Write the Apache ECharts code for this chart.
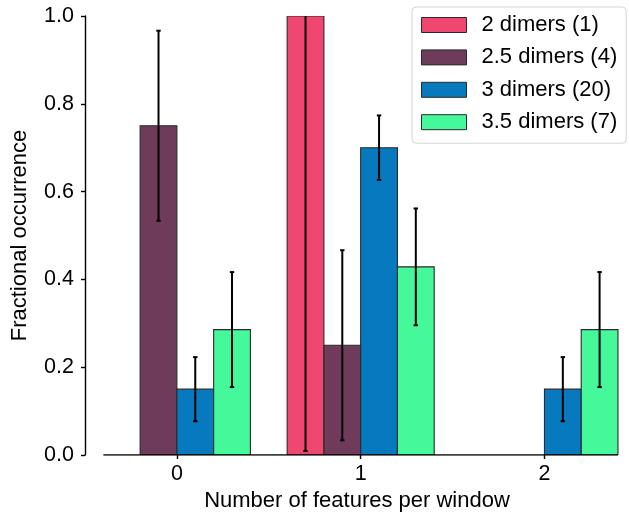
<!DOCTYPE html>
<html>
<head>
<meta charset="utf-8">
<script src="https://cdn.jsdelivr.net/npm/echarts@6/dist/echarts.min.js"></script>
<style>
html,body{margin:0;padding:0;background:#fff;}
#chart{width:629px;height:512px;}
</style>
</head>
<body>
<div id="chart"></div>
<script>
// ---- data ----
const categories = [0, 1, 2];
const seriesNames = ['2 dimers (1)', '2.5 dimers (4)', '3 dimers (20)', '3.5 dimers (7)'];
const dimers2  = [0, 1.0, 0];
const dimers25 = [0.75, 0.25, 0];
const dimers3  = [0.15, 0.70, 0.15];
const dimers35 = [0.2857, 0.4286, 0.2857];
const err2  = [0, 0.991, 0];
const err25 = [0.2165, 0.2165, 0];
const err3  = [0.073, 0.0735, 0.073];
const err35 = [0.131, 0.133, 0.131];
const yTicks = [0, 0.2, 0.4, 0.6, 0.8, 1.0];

// ---- styling ----
const colors = ['#EF476F', '#6E3C5A', '#0779BF', '#45F99A'];
const barW = 0.2;
const FONT = 'Liberation Sans, Arial, sans-serif';
const values = [dimers2, dimers25, dimers3, dimers35];
const errs = [err2, err25, err3, err35];

function makeRender(si) {
  const off = (si - 1.5) * barW;
  return function (params, api) {
    const x = api.value(0) + off;
    const v = api.value(1);
    const e = api.value(2);
    const children = [];
    if (v > 0) {
      const p0 = api.coord([x - barW / 2, v]);
      const p1 = api.coord([x + barW / 2, 0]);
      children.push({
        type: 'rect',
        shape: { x: p0[0], y: p0[1], width: p1[0] - p0[0], height: p1[1] - p0[1] },
        style: { fill: colors[si], stroke: '#2a2a2a', lineWidth: 1.1 }
      });
    }
    if (e > 0) {
      const t = api.coord([x, v + e]);
      const b = api.coord([x, v - e]);
      const cap = 2.2;
      const ls = { stroke: '#000', lineWidth: 2 };
      children.push({ type: 'line', shape: { x1: t[0], y1: t[1], x2: b[0], y2: b[1] }, style: ls });
      children.push({ type: 'line', shape: { x1: t[0] - cap, y1: t[1], x2: t[0] + cap, y2: t[1] }, style: ls });
      children.push({ type: 'line', shape: { x1: b[0] - cap, y1: b[1], x2: b[0] + cap, y2: b[1] }, style: ls });
    }
    return { type: 'group', children: children };
  };
}

const series = seriesNames.map((name, si) => ({
  name: name,
  type: 'custom',
  clip: true,
  renderItem: makeRender(si),
  itemStyle: { color: colors[si], borderColor: '#2a2a2a', borderWidth: 1 },
  encode: { x: 0, y: 1 },
  data: categories.map((c, i) => [c, values[si][i], errs[si][i]])
}));
// x-axis spine spanning the bars' extent
series.push({
  type: 'line',
  silent: true,
  symbol: 'none',
  lineStyle: { color: '#000', width: 1.4 },
  data: [[categories[0] - 2 * barW, 0], [categories[categories.length - 1] + 2 * barW, 0]],
  z: 5
});

const chart = echarts.init(document.getElementById('chart'), null, { renderer: 'canvas' });
chart.setOption({
  animation: false,
  backgroundColor: '#fff',
  textStyle: { fontFamily: FONT },
  grid: { left: 85, right: 0, top: 16, bottom: 57, containLabel: false, outerBoundsMode: 'none' },
  legend: {
    orient: 'vertical',
    left: 412,
    top: 7,
    padding: [7, 9, 10, 9],
    itemWidth: 45,
    itemHeight: 15,
    itemGap: 10.4,
    backgroundColor: 'rgba(255,255,255,0.85)',
    borderColor: '#d4d4d4',
    borderWidth: 1,
    borderRadius: 4,
    textStyle: { fontSize: 22, color: '#000', fontFamily: FONT, lineHeight: 20, padding: [0, 0, 0, 10] },
    data: seriesNames.map((n, si) => ({
      name: n,
      icon: 'rect',
      itemStyle: { color: colors[si], borderColor: '#2a2a2a', borderWidth: 1 }
    }))
  },
  xAxis: {
    type: 'value',
    min: -0.5,
    max: 2.46,
    name: 'Number of features per window',
    nameLocation: 'middle',
    nameGap: 35,
    nameTextStyle: { fontSize: 22, color: '#000', fontFamily: FONT },
    axisLine: { show: false },
    axisTick: { show: true, customValues: categories, length: 4, lineStyle: { color: '#000', width: 1.4 } },
    axisLabel: { customValues: categories, fontSize: 21.5, color: '#000', margin: 8, fontFamily: FONT,
      formatter: v => String(Math.round(v)) },
    splitLine: { show: false }
  },
  yAxis: {
    type: 'value',
    min: 0,
    max: 1,
    interval: 0.2,
    name: 'Fractional occurrence',
    nameLocation: 'middle',
    nameRotate: 90,
    nameGap: 54,
    nameTextStyle: { fontSize: 22, color: '#000', fontFamily: FONT },
    axisLine: { show: true, onZero: false, lineStyle: { color: '#000', width: 1.4 } },
    axisTick: { show: true, length: 4, lineStyle: { color: '#000', width: 1.4 } },
    axisLabel: { fontSize: 21.5, color: '#000', margin: 11, fontFamily: FONT,
      formatter: v => v.toFixed(1) },
    splitLine: { show: false }
  },
  series: series
});
</script>
</body>
</html>
